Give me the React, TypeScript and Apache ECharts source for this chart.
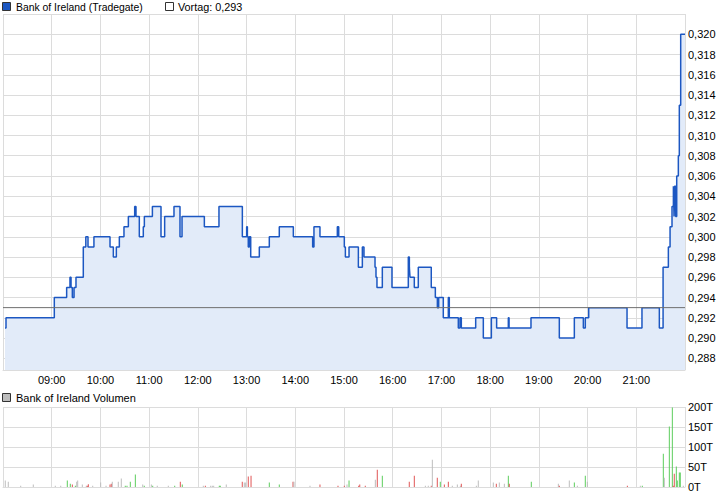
import React, { useEffect, useRef } from "react";
import * as echarts from "echarts";

// ---- data ----
const priceTimes = [
  "08:02:30", "08:03:42", "09:03:12", "09:18:24", "09:22:30", "09:23:48", "09:25:24", "09:27:30",
  "09:29:54", "09:38:54", "09:42:00", "09:44:42", "09:52:00", "10:11:48", "10:15:54", "10:19:36",
  "10:23:18", "10:29:00", "10:34:24", "10:42:12", "10:43:48", "10:47:54", "10:52:48", "10:54:06",
  "11:04:00", "11:14:36", "11:19:06", "11:30:36", "11:38:00", "11:40:30", "12:08:00", "12:26:00",
  "12:54:48", "13:00:06", "13:01:00", "13:02:06", "13:03:24", "13:05:06", "13:15:42", "13:28:00",
  "13:40:18", "13:57:36", "14:21:24", "14:23:00", "14:30:24", "14:51:48", "14:53:30", "15:00:24",
  "15:01:42", "15:06:12", "15:17:42", "15:22:36", "15:24:36", "15:38:12", "15:39:24", "15:40:36",
  "15:47:12", "15:59:06", "16:19:12", "16:20:30", "16:21:18", "16:26:36", "16:31:30", "16:47:30",
  "16:52:30", "16:55:00", "16:56:36", "17:02:18", "17:08:30", "17:09:42", "17:20:48", "17:22:54",
  "17:24:30", "17:42:12", "17:51:36", "18:01:30", "18:08:00", "18:22:24", "18:23:18", "18:50:18",
  "19:25:12", "19:43:42", "19:54:48", "19:57:12", "20:01:24", "20:48:36", "21:07:00", "21:28:24",
  "21:33:00", "21:39:30", "21:41:36", "21:44:00", "21:45:42", "21:46:30", "21:47:12", "21:48:30",
  "21:49:48", "21:51:48", "21:53:00", "21:54:42", "22:00:00",
];
const priceValues = [
  0.291, 0.292, 0.294, 0.295, 0.296, 0.295, 0.294, 0.295,
  0.296, 0.299, 0.3, 0.299, 0.3, 0.299, 0.298, 0.299,
  0.3, 0.301, 0.302, 0.303, 0.302, 0.3, 0.301, 0.302,
  0.303, 0.3, 0.302, 0.303, 0.3, 0.302, 0.301, 0.303,
  0.3, 0.301, 0.3, 0.299, 0.3, 0.298, 0.299, 0.3,
  0.301, 0.3, 0.299, 0.301, 0.3, 0.301, 0.3, 0.299,
  0.298, 0.299, 0.297, 0.299, 0.298, 0.297, 0.296, 0.295,
  0.297, 0.295, 0.298, 0.297, 0.296, 0.295, 0.297, 0.295,
  0.294, 0.293, 0.294, 0.292, 0.294, 0.292, 0.291, 0.292,
  0.291, 0.292, 0.29, 0.292, 0.291, 0.292, 0.291, 0.292,
  0.29, 0.292, 0.291, 0.292, 0.293, 0.291, 0.293, 0.291,
  0.297, 0.299, 0.301, 0.303, 0.305, 0.302, 0.305, 0.302,
  0.306, 0.308, 0.313, 0.32, 0.32,
];
const prevClose = 0.293;

const volTimes = [
  "08:02:48", "08:06:30", "08:21:48", "08:37:18", "09:04:24", "09:11:06", "09:19:12", "09:22:54",
  "09:25:24", "09:29:06", "09:30:48", "09:32:00", "09:37:42", "09:42:36", "09:43:48", "09:45:06",
  "09:50:30", "10:00:18", "10:06:54", "10:11:48", "10:13:24", "10:14:36", "10:22:00", "10:25:42",
  "10:30:36", "10:32:42", "10:36:48", "10:43:00", "10:52:06", "10:54:00", "11:02:42", "11:04:24",
  "11:10:00", "11:23:36", "11:31:30", "11:38:24", "11:40:48", "12:06:42", "12:09:12", "12:15:48",
  "12:17:48", "12:19:30", "12:26:24", "12:27:36", "12:35:00", "12:54:42", "12:57:12", "12:58:54",
  "13:02:06", "13:05:30", "13:28:00", "13:40:18", "13:57:12", "13:58:24", "14:18:06", "14:30:24",
  "14:52:36", "15:00:24", "15:03:42", "15:06:12", "15:18:06", "15:19:24", "15:26:12", "15:38:36",
  "15:41:00", "15:47:12", "16:20:24", "16:26:36", "16:40:12", "16:43:48", "16:47:30", "16:48:48",
  "16:54:54", "16:58:36", "17:03:36", "17:08:30", "17:13:24", "17:19:36", "17:23:18", "17:24:30",
  "17:43:00", "17:45:24", "18:03:54", "18:07:36", "18:11:18", "18:17:30", "18:22:24", "18:23:36",
  "18:50:42", "19:24:00", "19:25:12", "19:37:30", "19:43:42", "19:47:24", "19:57:12", "19:59:42",
  "20:49:00", "21:05:00", "21:07:24", "21:33:18", "21:34:30", "21:40:42", "21:44:24", "21:45:36",
  "21:46:48", "21:49:18", "21:50:30", "21:53:00", "21:54:12", "21:57:54",
];
// volume in thousand shares (T)
const volValues = [
  16, 13, 3, 6, 3, 3, 16, 8,
  6, 3, 13, 16, 6, 3, 3, 7,
  3, 11, 3, 6, 8, 13, 13, 21,
  3, 3, 13, 31, 6, 3, 6, 3,
  3, 3, 3, 13, 6, 3, 3, 3,
  3, 3, 3, 3, 6, 13, 11, 11,
  26, 28, 11, 6, 13, 13, 3, 6,
  3, 3, 6, 16, 3, 6, 3, 18,
  43, 28, 13, 28, 3, 3, 3, 68,
  23, 13, 6, 13, 3, 6, 3, 8,
  3, 16, 11, 8, 11, 8, 28, 8,
  13, 8, 3, 16, 11, 3, 28, 13,
  3, 3, 3, 83, 23, 151, 199, 3,
  33, 51, 16, 36, 36, 3,
];
// u = up (green), d = down (red), n = unchanged (grey)
const volDir = [
  "n", "n", "n", "n", "n", "n", "u", "u",
  "d", "u", "n", "n", "n", "n", "d", "d",
  "n", "n", "n", "d", "d", "n", "n", "n",
  "u", "u", "u", "u", "n", "u", "n", "u",
  "n", "n", "u", "d", "u", "n", "d", "n",
  "n", "n", "u", "u", "n", "d", "n", "n",
  "d", "d", "u", "u", "d", "n", "n", "d",
  "d", "d", "n", "u", "d", "d", "d", "n",
  "d", "u", "d", "d", "n", "n", "d", "n",
  "d", "u", "d", "d", "n", "n", "n", "d",
  "n", "n", "n", "d", "n", "n", "u", "d",
  "u", "n", "d", "n", "u", "n", "u", "n",
  "d", "n", "u", "u", "n", "u", "u", "d",
  "d", "u", "u", "u", "u", "n",
];

const FONT = "'Liberation Sans', Arial, sans-serif";
const GRID_COLOR = "#dcdcdc";
const LINE_COLOR = "#1c57c2";
const FILL_COLOR = "#e2ebf9";
const dirColor: Record<string, string> = { u: "#5ccd5c", d: "#e05555", n: "#bdbdbd" };

function toMin(t: string): number {
  const [h, m, s] = t.split(":").map(Number);
  return (h - 8) * 60 + m + (s || 0) / 60;
}

function hourLabel(v: number): string {
  const h = 8 + Math.round(v / 60);
  if (h <= 8 || h >= 22) return "";
  return (h < 10 ? "0" : "") + h + ":00";
}

export default function App() {
  const ref = useRef<HTMLDivElement>(null);

  useEffect(() => {
    if (!ref.current) return;
    const chart = echarts.init(ref.current, null, { renderer: "svg" });

    const priceData = priceTimes.map((t, i) => [toMin(t), priceValues[i]]);
    const prevData = [
      [toMin(priceTimes[0]) - toMin(priceTimes[0]), prevClose],
      [toMin(priceTimes[priceTimes.length - 1]), prevClose],
    ];
    const volData = volTimes.map((t, i) => ({
      value: [toMin(t), volValues[i] * 1000],
      itemStyle: { color: dirColor[volDir[i]] },
    }));

    const yLabelMin = 0.286;
    const yLabelMax = 0.322;
    const nLines = Math.round((yLabelMax - yLabelMin) / 0.002) + 1;
    const splitColors = Array.from({ length: nLines }, (_, i) => (i === 0 ? "transparent" : GRID_COLOR));

    const option: any = {
      animation: false,
      backgroundColor: "#ffffff",
      textStyle: { fontFamily: FONT },
      grid: [
        { left: 3, right: 41, top: 14, height: 364.5 },
        { left: 3, right: 41, top: 14, height: 356 },
        { left: 3, right: 41, top: 407, height: 80 },
      ],
      xAxis: [
        { gridIndex: 0, type: "value", min: 0, max: 840, show: false },
        {
          gridIndex: 1,
          type: "value",
          min: 0,
          max: 840,
          interval: 60,
          axisLine: { show: true, lineStyle: { color: GRID_COLOR } },
          axisTick: { show: false },
          splitLine: { show: true, lineStyle: { color: GRID_COLOR, width: 1 } },
          axisLabel: {
            formatter: hourLabel,
            color: "#000",
            fontSize: 11,
            fontFamily: FONT,
            margin: 4,
            showMinLabel: false,
            showMaxLabel: false,
          },
        },
        {
          gridIndex: 2,
          type: "value",
          min: 0,
          max: 840,
          interval: 60,
          axisLine: { show: true, lineStyle: { color: GRID_COLOR } },
          axisTick: { show: false },
          axisLabel: { show: false },
          splitLine: { show: true, lineStyle: { color: GRID_COLOR, width: 1 } },
        },
      ],
      yAxis: [
        {
          gridIndex: 0,
          type: "value",
          position: "right",
          min: yLabelMin,
          max: yLabelMax,
          interval: 0.002,
          axisLine: { show: false },
          axisTick: { show: false },
          splitLine: { show: true, lineStyle: { color: splitColors, width: 1 } },
          axisLabel: {
            color: "#000",
            fontSize: 11,
            fontFamily: FONT,
            margin: 3,
            formatter: (v: number) =>
              Math.abs(v - yLabelMin) < 1e-6 || Math.abs(v - yLabelMax) < 1e-6
                ? ""
                : v.toFixed(3).replace(".", ","),
          },
        },
        { gridIndex: 1, type: "value", min: 0.28684, max: 0.322, show: false },
        {
          gridIndex: 2,
          type: "value",
          position: "right",
          min: 0,
          max: 200000,
          interval: 50000,
          axisLine: { show: false },
          axisTick: { show: false },
          splitLine: { show: true, lineStyle: { color: GRID_COLOR, width: 1 } },
          axisLabel: {
            color: "#000",
            fontSize: 11,
            fontFamily: FONT,
            margin: 3,
            formatter: (v: number) => Math.round(v / 1000) + "T",
          },
        },
      ],
      series: [
        {
          type: "line",
          xAxisIndex: 1,
          yAxisIndex: 1,
          data: priceData,
          step: "end",
          symbol: "none",
          lineStyle: { color: LINE_COLOR, width: 1.5 },
          areaStyle: { color: FILL_COLOR, origin: "start", opacity: 1 },
          z: 3,
        },
        {
          type: "line",
          xAxisIndex: 1,
          yAxisIndex: 1,
          data: prevData,
          symbol: "none",
          silent: true,
          lineStyle: { color: "#6e6e6e", width: 1 },
          z: 4,
        },
        {
          type: "bar",
          xAxisIndex: 2,
          yAxisIndex: 2,
          data: volData,
          barWidth: 1,
        },
      ],
      graphic: [
        {
          type: "rect",
          shape: { x: 2.5, y: 2.5, width: 8, height: 8 },
          style: { fill: LINE_COLOR, stroke: "#333", lineWidth: 1 },
        },
        {
          type: "text",
          style: {
            x: 16,
            y: 7,
            text: "Bank of Ireland (Tradegate)",
            fontSize: 10.4,
            fontFamily: FONT,
            fill: "#000",
            verticalAlign: "middle",
          },
        },
        {
          type: "rect",
          shape: { x: 165.5, y: 2.5, width: 8, height: 8 },
          style: { fill: "#fff", stroke: "#333", lineWidth: 1 },
        },
        {
          type: "text",
          style: {
            x: 178,
            y: 7,
            text: "Vortag: 0,293",
            fontSize: 10.8,
            fontFamily: FONT,
            fill: "#000",
            verticalAlign: "middle",
          },
        },
        {
          type: "rect",
          shape: { x: 2.5, y: 393.5, width: 8, height: 8 },
          style: { fill: "#bdbdbd", stroke: "#333", lineWidth: 1 },
        },
        {
          type: "text",
          style: {
            x: 16,
            y: 398,
            text: "Bank of Ireland Volumen",
            fontSize: 11,
            fontFamily: FONT,
            fill: "#000",
            verticalAlign: "middle",
          },
        },
      ],
    };

    chart.setOption(option);
    return () => chart.dispose();
  }, []);

  return (
    <div
      ref={ref}
      style={{ position: "absolute", left: 0, top: 0, width: 726, height: 496 }}
    />
  );
}
